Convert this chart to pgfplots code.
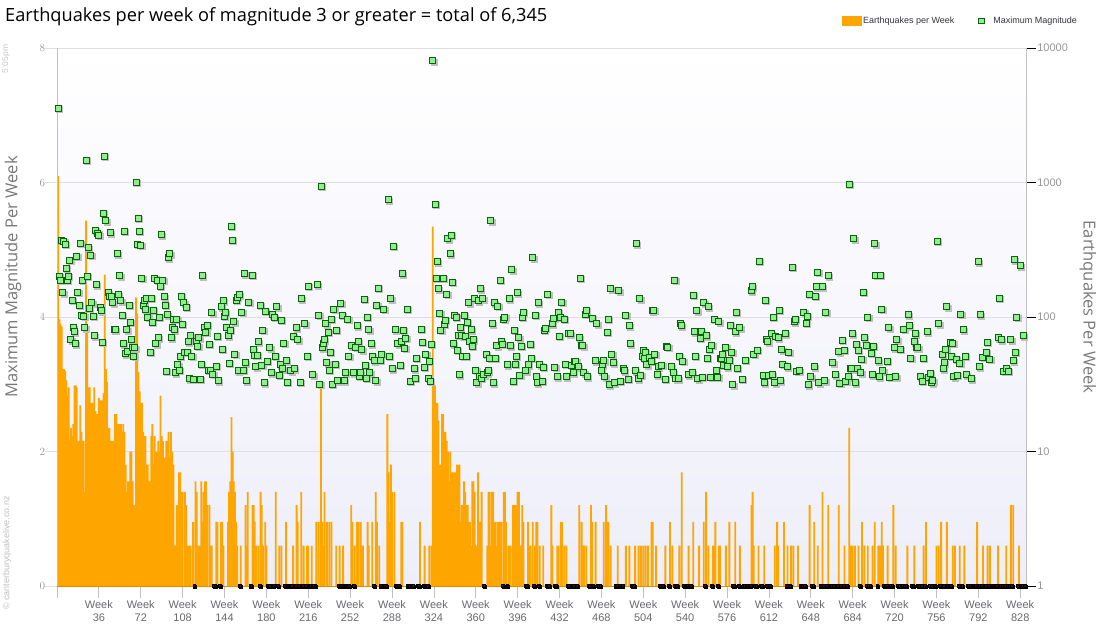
\documentclass[border=0pt]{standalone}
\usepackage{fontspec}
\setmainfont{Liberation Sans}
\newfontfamily\titlefont{Open Sans}
\usepackage{pgfplots}
\usepackage{pgfplotstable}
\pgfplotsset{compat=1.18}
\definecolor{barorange}{RGB}{255,165,0}
\definecolor{baseor}{RGB}{225,140,0}
\definecolor{mkfill}{RGB}{144,238,144}
\definecolor{mkdraw}{RGB}{10,100,10}
\definecolor{zerodot}{RGB}{55,10,10}
\definecolor{gridc}{RGB}{222,222,228}
\definecolor{axc}{RGB}{192,192,192}
\definecolor{labc}{RGB}{105,105,110}
\definecolor{tickc}{RGB}{150,150,150}
\definecolor{ttlc}{RGB}{120,120,120}
\definecolor{bgbot}{RGB}{238,238,250}
\definecolor{legc}{RGB}{50,50,60}

\pgfplotstableread[row sep=\\]{w c\\
1 1120\\2 96\\3 89\\4 85\\5 41\\6 41\\7 40\\8 34\\9 26\\10 30\\11 12\\12 15\\13 13\\14 16\\15 31\\16 31\\17 30\\18 12\\19 12\\20 22\\
21 14\\22 12\\23 12\\24 5\\25 520\\26 78\\27 30\\28 30\\29 23\\30 23\\31 23\\32 30\\33 20\\34 19\\35 19\\36 25\\37 24\\38 24\\39 24\\40 27\\
41 207\\42 41\\43 33\\44 15\\45 15\\46 12\\47 12\\48 12\\49 12\\50 19\\51 19\\52 12\\53 16\\54 16\\55 16\\56 14\\57 16\\58 14\\59 8\\60 5\\
61 6\\62 6\\63 10\\64 10\\65 6\\66 4\\67 4\\68 140\\69 106\\70 39\\71 28\\72 23\\73 23\\74 14\\75 8\\76 13\\77 8\\78 8\\79 6\\80 6\\
81 13\\82 16\\83 8\\84 13\\85 10\\86 10\\87 12\\88 10\\89 26\\90 13\\91 12\\92 9\\93 9\\94 12\\95 9\\96 14\\97 9\\98 14\\99 10\\100 8\\
101 2\\102 2\\103 4\\104 4\\105 7\\106 7\\107 5\\108 5\\110 5\\111 4\\112 2\\113 2\\114 2\\115 2\\117 3\\119 6\\120 5\\122 2\\123 2\\124 6\\
125 3\\126 5\\127 6\\128 6\\129 4\\131 4\\132 2\\133 2\\137 3\\138 3\\141 3\\142 3\\143 2\\147 3\\148 5\\149 6\\150 18\\151 10\\152 6\\153 5\\
154 3\\155 2\\158 2\\162 4\\163 2\\164 5\\168 4\\169 4\\170 3\\171 2\\173 2\\175 5\\176 4\\177 2\\179 3\\180 2\\188 5\\191 2\\193 2\\197 3\\
203 2\\206 4\\207 3\\210 5\\212 2\\215 2\\216 2\\219 2\\223 3\\225 3\\227 32\\228 3\\229 2\\230 5\\232 3\\234 3\\236 3\\240 2\\243 2\\246 2\\
253 4\\254 3\\256 2\\258 3\\259 3\\261 3\\262 2\\263 2\\267 3\\268 2\\271 3\\274 5\\275 3\\277 2\\284 19\\285 7\\286 3\\287 8\\288 5\\290 5\\
296 3\\297 3\\312 3\\316 2\\320 2\\322 2\\323 470\\324 31\\325 31\\326 23\\327 23\\328 17\\329 8\\330 8\\331 19\\332 19\\333 14\\334 14\\335 12\\336 10\\
337 6\\338 10\\339 7\\340 7\\341 7\\342 7\\343 6\\344 8\\345 8\\346 8\\347 3\\348 4\\349 4\\350 6\\351 5\\352 4\\353 4\\354 3\\355 3\\356 2\\
357 6\\358 6\\359 5\\360 2\\361 2\\362 7\\363 3\\364 3\\365 5\\370 2\\371 5\\372 5\\373 2\\374 5\\375 5\\376 3\\377 3\\378 2\\379 3\\380 3\\
381 3\\382 3\\384 5\\385 5\\386 3\\388 2\\389 2\\390 2\\392 4\\393 4\\394 4\\395 4\\396 5\\397 5\\398 2\\399 2\\400 4\\401 3\\405 3\\406 2\\
407 2\\409 3\\411 2\\412 3\\413 3\\415 2\\418 2\\425 4\\426 2\\430 2\\431 2\\433 3\\434 3\\436 2\\438 2\\449 4\\451 3\\452 2\\453 2\\455 2\\
459 4\\460 3\\463 3\\470 3\\472 4\\474 3\\476 2\\482 2\\489 2\\492 2\\497 2\\500 2\\502 2\\504 2\\506 2\\508 2\\511 3\\512 3\\515 2\\523 2\\
527 3\\529 2\\535 2\\537 7\\543 2\\547 3\\552 2\\556 3\\558 5\\560 2\\564 2\\566 3\\569 2\\570 2\\575 2\\578 3\\583 3\\587 2\\597 4\\598 5\\
599 2\\603 2\\608 2\\617 2\\619 3\\620 2\\625 3\\628 2\\631 2\\633 2\\637 2\\647 4\\651 3\\654 2\\658 5\\663 4\\672 4\\677 2\\681 15\\682 2\\
683 2\\684 2\\686 2\\689 2\\692 3\\694 2\\697 2\\701 2\\703 3\\706 2\\707 2\\708 2\\709 3\\710 2\\714 2\\719 4\\721 2\\731 2\\737 2\\745 2\\
747 3\\756 2\\758 2\\760 3\\765 3\\770 2\\772 2\\776 2\\780 2\\791 3\\796 2\\800 2\\802 2\\809 2\\816 2\\820 4\\822 4\\827 2\\
}\bars

\pgfplotstableread[row sep=\\]{w m\\
1 7.1\\2 4.6\\3 4.55\\4 5.14\\5 4.36\\6 5.12\\7 5.08\\8 4.72\\9 4.54\\10 4.6\\11 4.84\\12 3.66\\13 4.25\\14 3.84\\15 3.78\\16 3.6\\17 4.9\\18 4.37\\19 4.17\\20 5.1\\
21 4.02\\22 4.55\\23 4.01\\24 3.84\\25 6.33\\26 4.6\\27 5.03\\28 4.13\\29 4.92\\30 4.21\\31 4.01\\32 3.72\\33 5.29\\34 4.48\\35 5.24\\36 5.21\\37 4.14\\38 4.09\\39 3.62\\40 5.54\\
41 6.39\\42 5.43\\44 4.36\\45 4.31\\46 5.25\\47 4.31\\48 4.21\\49 3.81\\50 3.81\\52 4.94\\53 4.33\\54 4.61\\55 4.24\\56 4.02\\57 3.6\\58 5.27\\59 3.45\\60 3.81\\61 3.48\\62 4.17\\
63 3.92\\64 3.67\\65 3.55\\66 3.41\\67 3.54\\68 6.0\\69 5.08\\70 5.47\\71 5.27\\72 5.07\\73 4.57\\74 4.17\\75 4.24\\76 4.11\\77 4.28\\78 4.0\\80 3.47\\81 4.28\\82 3.92\\83 4.1\\
84 4.57\\85 3.6\\86 4.55\\87 3.69\\88 4.0\\89 4.46\\90 5.22\\91 4.54\\92 4.3\\93 4.17\\94 3.19\\95 4.03\\96 4.88\\97 4.94\\98 3.69\\99 3.85\\100 3.97\\101 3.81\\102 3.17\\103 3.96\\
104 3.29\\105 3.21\\106 3.41\\107 4.31\\108 3.89\\109 4.21\\110 3.47\\111 4.14\\112 3.47\\113 3.63\\114 3.08\\115 3.72\\116 3.41\\117 3.07\\120 3.63\\121 3.56\\122 3.69\\123 3.07\\124 3.3\\125 4.61\\
127 3.84\\128 3.77\\129 3.88\\130 3.21\\131 3.59\\132 3.21\\133 4.06\\134 3.15\\137 3.27\\138 3.71\\139 3.05\\141 4.15\\142 3.52\\143 4.24\\144 4.01\\145 4.06\\146 3.84\\147 3.72\\148 3.31\\149 3.8\\
150 5.35\\151 5.14\\152 3.93\\153 3.44\\154 4.25\\155 4.29\\156 3.2\\157 4.33\\159 4.07\\160 3.21\\161 4.64\\162 3.32\\163 3.05\\165 4.22\\168 4.62\\169 3.51\\170 3.43\\171 3.26\\172 3.43\\173 3.63\\
175 4.17\\176 3.28\\177 3.8\\178 3.02\\179 4.08\\181 3.34\\183 3.54\\184 3.17\\185 4.03\\187 3.99\\188 3.41\\189 4.15\\191 3.13\\192 3.29\\193 3.95\\194 3.23\\195 3.61\\197 3.35\\198 3.03\\201 3.2\\
203 3.71\\204 3.23\\206 3.84\\207 3.66\\209 3.03\\210 4.27\\213 3.9\\215 3.42\\216 4.46\\220 3.14\\224 4.48\\225 4.02\\226 3.0\\227 5.94\\228 3.54\\229 3.6\\230 3.66\\231 3.9\\232 3.32\\233 3.77\\
234 3.21\\235 3.47\\236 3.96\\237 3.0\\238 4.11\\239 3.3\\240 3.8\\241 3.05\\244 4.2\\245 4.02\\247 3.05\\248 3.17\\250 3.97\\251 3.41\\253 3.57\\255 3.17\\257 3.55\\258 3.87\\259 3.63\\260 3.12\\
261 3.17\\262 3.51\\264 4.26\\265 3.28\\266 3.09\\267 3.99\\268 3.81\\269 3.17\\270 3.6\\271 3.41\\273 3.35\\274 3.05\\275 4.17\\276 4.43\\278 3.36\\279 3.44\\281 4.11\\285 5.74\\286 3.41\\287 4.27\\
288 3.23\\289 5.05\\291 3.81\\293 3.6\\295 3.28\\296 3.63\\297 4.64\\298 3.8\\299 3.53\\300 3.68\\301 4.11\\304 3.04\\307 3.23\\308 3.09\\309 3.38\\313 3.82\\314 3.62\\316 3.25\\317 3.44\\319 3.09\\
320 3.34\\321 3.04\\322 3.59\\323 7.81\\325 5.68\\326 4.57\\327 4.82\\328 4.42\\329 4.05\\330 3.8\\332 4.57\\333 3.89\\334 3.95\\335 4.34\\336 5.16\\338 4.94\\339 5.21\\340 4.52\\341 3.6\\342 4.02\\
343 4.0\\344 3.5\\345 3.73\\346 3.14\\347 3.84\\348 3.72\\349 3.41\\350 4.02\\351 3.71\\352 3.41\\353 3.92\\354 4.21\\355 3.63\\356 3.81\\357 3.56\\358 3.66\\359 4.27\\360 3.21\\361 3.02\\362 4.24\\
363 3.11\\364 4.42\\365 3.09\\366 4.27\\367 3.14\\369 3.44\\370 3.17\\371 3.2\\372 3.38\\373 5.43\\374 3.9\\375 3.02\\376 4.21\\377 3.38\\378 3.57\\379 4.16\\381 4.54\\382 3.63\\383 3.59\\384 3.96\\
385 3.99\\387 3.29\\389 4.27\\390 3.57\\391 4.7\\392 3.04\\393 3.8\\394 3.3\\395 3.41\\396 4.36\\397 3.69\\398 3.13\\399 3.56\\400 4.0\\401 4.07\\403 3.2\\405 3.29\\407 3.59\\408 3.38\\409 4.88\\
411 4.02\\412 3.11\\413 3.02\\414 4.21\\415 3.29\\417 3.04\\418 3.25\\419 3.8\\420 3.83\\422 4.34\\426 3.9\\427 3.98\\428 3.25\\430 3.11\\431 4.07\\432 3.71\\433 4.0\\434 4.22\\436 3.96\\437 3.3\\
438 3.11\\440 3.75\\441 3.75\\442 3.28\\444 3.17\\445 3.34\\446 3.34\\448 3.26\\449 3.69\\450 4.57\\451 3.58\\452 3.57\\453 3.17\\454 4.04\\455 4.1\\456 3.11\\460 3.98\\463 3.35\\464 3.9\\468 3.2\\
469 3.29\\470 3.35\\471 3.11\\473 3.77\\474 3.96\\475 2.99\\476 4.42\\477 3.44\\478 3.32\\479 3.02\\483 4.39\\484 3.04\\487 3.23\\488 3.2\\489 4.02\\491 3.07\\492 3.87\\493 3.6\\497 3.2\\498 5.09\\
500 3.08\\501 4.27\\502 3.13\\503 3.41\\504 3.5\\505 3.38\\506 3.47\\507 3.29\\509 3.4\\511 3.34\\512 4.09\\513 4.1\\514 3.44\\516 3.14\\517 3.26\\520 3.28\\523 3.07\\524 3.56\\525 3.55\\528 3.26\\
530 3.17\\531 4.54\\532 3.08\\534 3.08\\535 3.41\\536 3.9\\537 3.87\\538 3.34\\543 3.14\\546 3.17\\547 4.32\\548 3.78\\549 3.41\\550 4.09\\551 3.08\\553 3.68\\554 3.78\\555 3.1\\556 4.21\\558 3.72\\
559 3.38\\560 4.15\\561 3.52\\562 3.1\\563 3.58\\565 3.96\\567 3.2\\568 3.1\\569 3.93\\570 3.38\\571 3.38\\572 3.44\\573 3.28\\575 3.55\\576 3.26\\578 3.36\\579 3.88\\580 3.47\\581 2.99\\583 3.78\\
584 4.07\\585 3.24\\587 3.84\\589 3.07\\592 3.36\\597 4.39\\598 4.45\\599 3.44\\602 3.5\\604 4.83\\607 3.13\\608 3.02\\609 4.25\\610 3.66\\611 3.63\\612 3.13\\614 3.75\\615 3.14\\616 3.99\\617 3.02\\
618 3.71\\620 3.69\\621 4.1\\622 3.05\\623 3.51\\624 3.3\\626 3.75\\628 3.26\\629 3.47\\632 4.74\\634 3.93\\635 3.97\\636 3.19\\638 3.2\\642 4.07\\644 3.91\\645 4.01\\646 2.99\\647 4.34\\648 3.11\\
651 3.26\\652 4.31\\653 4.45\\654 4.66\\655 3.02\\658 4.45\\660 3.05\\661 4.07\\663 4.61\\667 3.32\\669 3.14\\672 3.48\\673 3.01\\675 3.65\\677 3.5\\678 3.04\\680 3.11\\681 5.97\\682 3.23\\683 3.23\\
684 3.75\\685 5.16\\686 3.02\\687 3.59\\688 3.23\\689 3.5\\691 3.17\\692 3.37\\693 4.37\\694 3.69\\696 3.58\\697 3.99\\700 3.46\\701 3.14\\702 3.56\\703 5.09\\704 4.62\\706 3.35\\707 3.11\\708 4.62\\
709 4.11\\710 3.2\\714 3.34\\715 3.84\\716 3.1\\720 3.54\\721 3.11\\722 3.66\\725 3.52\\728 3.82\\732 4.03\\733 3.87\\734 3.38\\737 3.63\\738 3.75\\739 3.54\\740 3.54\\742 3.11\\744 3.04\\745 3.38\\
748 3.78\\749 3.1\\751 3.16\\752 3.02\\753 3.05\\757 5.12\\758 3.9\\761 3.44\\762 3.23\\763 3.32\\764 3.52\\765 4.15\\768 3.62\\769 3.41\\770 3.61\\771 3.11\\773 3.37\\774 3.13\\776 3.31\\777 4.04\\
779 3.81\\781 3.41\\782 3.14\\786 3.08\\792 4.82\\793 3.26\\794 4.03\\796 3.4\\799 3.47\\800 3.62\\802 3.37\\809 3.69\\810 4.28\\812 3.66\\814 3.19\\816 3.24\\818 3.19\\820 3.66\\822 3.35\\823 4.85\\
824 3.47\\825 4.0\\828 4.76\\831 3.72\\
}\mags

\begin{document}
\begin{tikzpicture}[x=1pt,y=1pt]
% ---- counts axis (right, log), bars, background, grid
\begin{axis}[
  at={(57pt,54pt)}, anchor=south west, width=969pt, height=538pt, scale only axis,
  xmin=0, xmax=833, ymode=log, ymin=1, ymax=10000,
  axis x line=none, axis y line*=right,
  y axis line style={-, draw=axc},
  xtick=\empty,
  ytick={1,10,100,1000,10000}, yticklabels={1,10,100,1000,10000},
  yminorticks=false,
  ymajorgrids, grid style={gridc, line width=0.8pt},
  tick align=outside,
  ytick style={draw=black, line width=0.8pt, /pgfplots/major tick length=10pt},
  yticklabel style={font=\fontsize{11}{12}\selectfont, text=tickc, xshift=3.5pt},
  axis background/.style={top color=white, bottom color=bgbot},
]
\addplot[ybar, bar width=1.6, fill=barorange, draw=none] table[x=w,y=c] {\bars};
\end{axis}
% ---- magnitude axis (left)
\begin{axis}[
  at={(57pt,54pt)}, anchor=south west, width=969pt, height=538pt, scale only axis,
  xmin=0, xmax=833, ymin=0, ymax=8, clip=false,
  axis x line*=bottom, axis y line*=left,
  x axis line style={-, draw=baseor, line width=1pt},
  y axis line style={-, draw=axc},
  ytick={0,2,4,6,8},
  xtick={0,36,...,828},
  xticklabels={,Week\\36,Week\\72,Week\\108,Week\\144,Week\\180,Week\\216,Week\\252,Week\\288,Week\\324,Week\\360,Week\\396,Week\\432,Week\\468,Week\\504,Week\\540,Week\\576,Week\\612,Week\\648,Week\\684,Week\\720,Week\\756,Week\\792,Week\\828},
  xticklabel style={align=center, font=\fontsize{11}{12.5}\selectfont, text=labc, yshift=-7pt},
  yticklabel style={font=\fontsize{11}{12}\selectfont, text=tickc, xshift=-4pt},
  tick align=outside,
  xtick style={draw=axc, line width=0.8pt, /pgfplots/major tick length=12pt},
  ytick style={draw=gridc, line width=0.8pt, /pgfplots/major tick length=12pt},
  legend style={at={(1.0578,1.050)}, anchor=east, draw=none, fill=none,
    font=\fontsize{9}{11}\selectfont, text=legc, legend columns=2,
    /tikz/every even column/.append style={column sep=22pt}},
]
\addlegendimage{legend image code/.code={\fill[barorange] (0pt,-4.5pt) rectangle (19pt,4.5pt);}}
\addlegendentry{Earthquakes per Week}
\addplot[only marks, mark=square*, mark size=1.5pt, mark options={fill=black!25, draw=none, xshift=0.8pt, yshift=-0.8pt}, forget plot] coordinates {
(118,0)(135,0)(136,0)(140,0)(157,0)(166,0)(167,0)(174,0)(181,0)(182,0)(183,0)(185,0)(186,0)(190,0)(196,0)(198,0)(199,0)(200,0)(201,0)(202,0)
(205,0)(208,0)(211,0)(214,0)(217,0)(218,0)(220,0)(221,0)(222,0)(242,0)(244,0)(245,0)(247,0)(248,0)(249,0)(250,0)(251,0)(255,0)(272,0)(278,0)
(280,0)(281,0)(282,0)(283,0)(291,0)(292,0)(294,0)(301,0)(302,0)(303,0)(305,0)(306,0)(310,0)(311,0)(315,0)(317,0)(318,0)(319,0)(367,0)(383,0)
(387,0)(403,0)(404,0)(410,0)(414,0)(421,0)(422,0)(423,0)(428,0)(429,0)(439,0)(440,0)(443,0)(444,0)(447,0)(457,0)(458,0)(461,0)(465,0)(466,0)
(467,0)(480,0)(481,0)(484,0)(485,0)(486,0)(494,0)(495,0)(496,0)(518,0)(519,0)(521,0)(526,0)(531,0)(533,0)(539,0)(540,0)(541,0)(542,0)(544,0)
(545,0)(557,0)(563,0)(568,0)(581,0)(582,0)(586,0)(590,0)(591,0)(593,0)(594,0)(595,0)(596,0)(600,0)(601,0)(605,0)(606,0)(610,0)(613,0)(627,0)
(630,0)(639,0)(640,0)(641,0)(643,0)(649,0)(650,0)(656,0)(657,0)(659,0)(662,0)(664,0)(665,0)(666,0)(668,0)(670,0)(671,0)(674,0)(676,0)(679,0)
(690,0)(696,0)(698,0)(699,0)(705,0)(711,0)(712,0)(713,0)(717,0)(718,0)(723,0)(724,0)(726,0)(727,0)(729,0)(730,0)(735,0)(736,0)(740,0)(741,0)
(743,0)(746,0)(750,0)(752,0)(754,0)(755,0)(759,0)(762,0)(766,0)(767,0)(768,0)(775,0)(778,0)(783,0)(784,0)(785,0)(787,0)(788,0)(789,0)(790,0)
(793,0)(795,0)(797,0)(798,0)(801,0)(803,0)(804,0)(805,0)(806,0)(807,0)(808,0)(811,0)(813,0)(815,0)(817,0)(819,0)(821,0)(826,0)(829,0)(830,0)(832,0)
};
\addplot[only marks, mark=square*, mark size=1.4pt, mark options={fill=zerodot, draw=none}, forget plot] coordinates {
(118,0)(135,0)(136,0)(140,0)(157,0)(166,0)(167,0)(174,0)(181,0)(182,0)(183,0)(185,0)(186,0)(190,0)(196,0)(198,0)(199,0)(200,0)(201,0)(202,0)
(205,0)(208,0)(211,0)(214,0)(217,0)(218,0)(220,0)(221,0)(222,0)(242,0)(244,0)(245,0)(247,0)(248,0)(249,0)(250,0)(251,0)(255,0)(272,0)(278,0)
(280,0)(281,0)(282,0)(283,0)(291,0)(292,0)(294,0)(301,0)(302,0)(303,0)(305,0)(306,0)(310,0)(311,0)(315,0)(317,0)(318,0)(319,0)(367,0)(383,0)
(387,0)(403,0)(404,0)(410,0)(414,0)(421,0)(422,0)(423,0)(428,0)(429,0)(439,0)(440,0)(443,0)(444,0)(447,0)(457,0)(458,0)(461,0)(465,0)(466,0)
(467,0)(480,0)(481,0)(484,0)(485,0)(486,0)(494,0)(495,0)(496,0)(518,0)(519,0)(521,0)(526,0)(531,0)(533,0)(539,0)(540,0)(541,0)(542,0)(544,0)
(545,0)(557,0)(563,0)(568,0)(581,0)(582,0)(586,0)(590,0)(591,0)(593,0)(594,0)(595,0)(596,0)(600,0)(601,0)(605,0)(606,0)(610,0)(613,0)(627,0)
(630,0)(639,0)(640,0)(641,0)(643,0)(649,0)(650,0)(656,0)(657,0)(659,0)(662,0)(664,0)(665,0)(666,0)(668,0)(670,0)(671,0)(674,0)(676,0)(679,0)
(690,0)(696,0)(698,0)(699,0)(705,0)(711,0)(712,0)(713,0)(717,0)(718,0)(723,0)(724,0)(726,0)(727,0)(729,0)(730,0)(735,0)(736,0)(740,0)(741,0)
(743,0)(746,0)(750,0)(752,0)(754,0)(755,0)(759,0)(762,0)(766,0)(767,0)(768,0)(775,0)(778,0)(783,0)(784,0)(785,0)(787,0)(788,0)(789,0)(790,0)
(793,0)(795,0)(797,0)(798,0)(801,0)(803,0)(804,0)(805,0)(806,0)(807,0)(808,0)(811,0)(813,0)(815,0)(817,0)(819,0)(821,0)(826,0)(829,0)(830,0)(832,0)
};
\addplot[only marks, mark=square*, mark size=3pt, forget plot,
  mark options={fill=black!25, draw=black!25, xshift=1pt, yshift=-1pt}] table[x=w,y=m] {\mags};
\addplot[only marks, mark=square*, mark size=3pt,
  mark options={fill=mkfill, draw=mkdraw, line width=1pt},
  legend image code/.code={\path[draw=none,fill=none] (0pt,-0.1pt) rectangle (12.5pt,0.1pt); \draw[mkdraw, fill=mkfill, line width=0.8pt] (0pt,-2.6pt) rectangle (5.2pt,2.6pt);}]
  table[x=w,y=m] {\mags};
\addlegendentry{Maximum Magnitude}
\end{axis}
% ---- titles and side texts
\node[anchor=base west, font=\titlefont\fontsize{18.2}{21}\selectfont, inner sep=0pt] at (5,618) {Earthquakes per week of magnitude 3 or greater = total of 6,345};
\node[rotate=90, font=\titlefont\fontsize{16.5}{20}\selectfont, text=ttlc, inner sep=0pt] at (13,363) {Maximum Magnitude Per Week};
\node[rotate=-90, font=\titlefont\fontsize{16.5}{20}\selectfont, text=ttlc, inner sep=0pt] at (1088,333) {Earthquakes Per Week};
\node[rotate=90, font=\fontsize{8.5}{10}\selectfont, text=black!22, inner sep=0pt] at (6,581) {5:05pm};
\node[rotate=90, font=\fontsize{9}{10}\selectfont, text=black!25, inner sep=0pt] at (7,87) {\textcopyright\ canterburyquakelive.co.nz};
\pgfresetboundingbox
\useasboundingbox (0,0) rectangle (1100,640);
\end{tikzpicture}
\end{document}
